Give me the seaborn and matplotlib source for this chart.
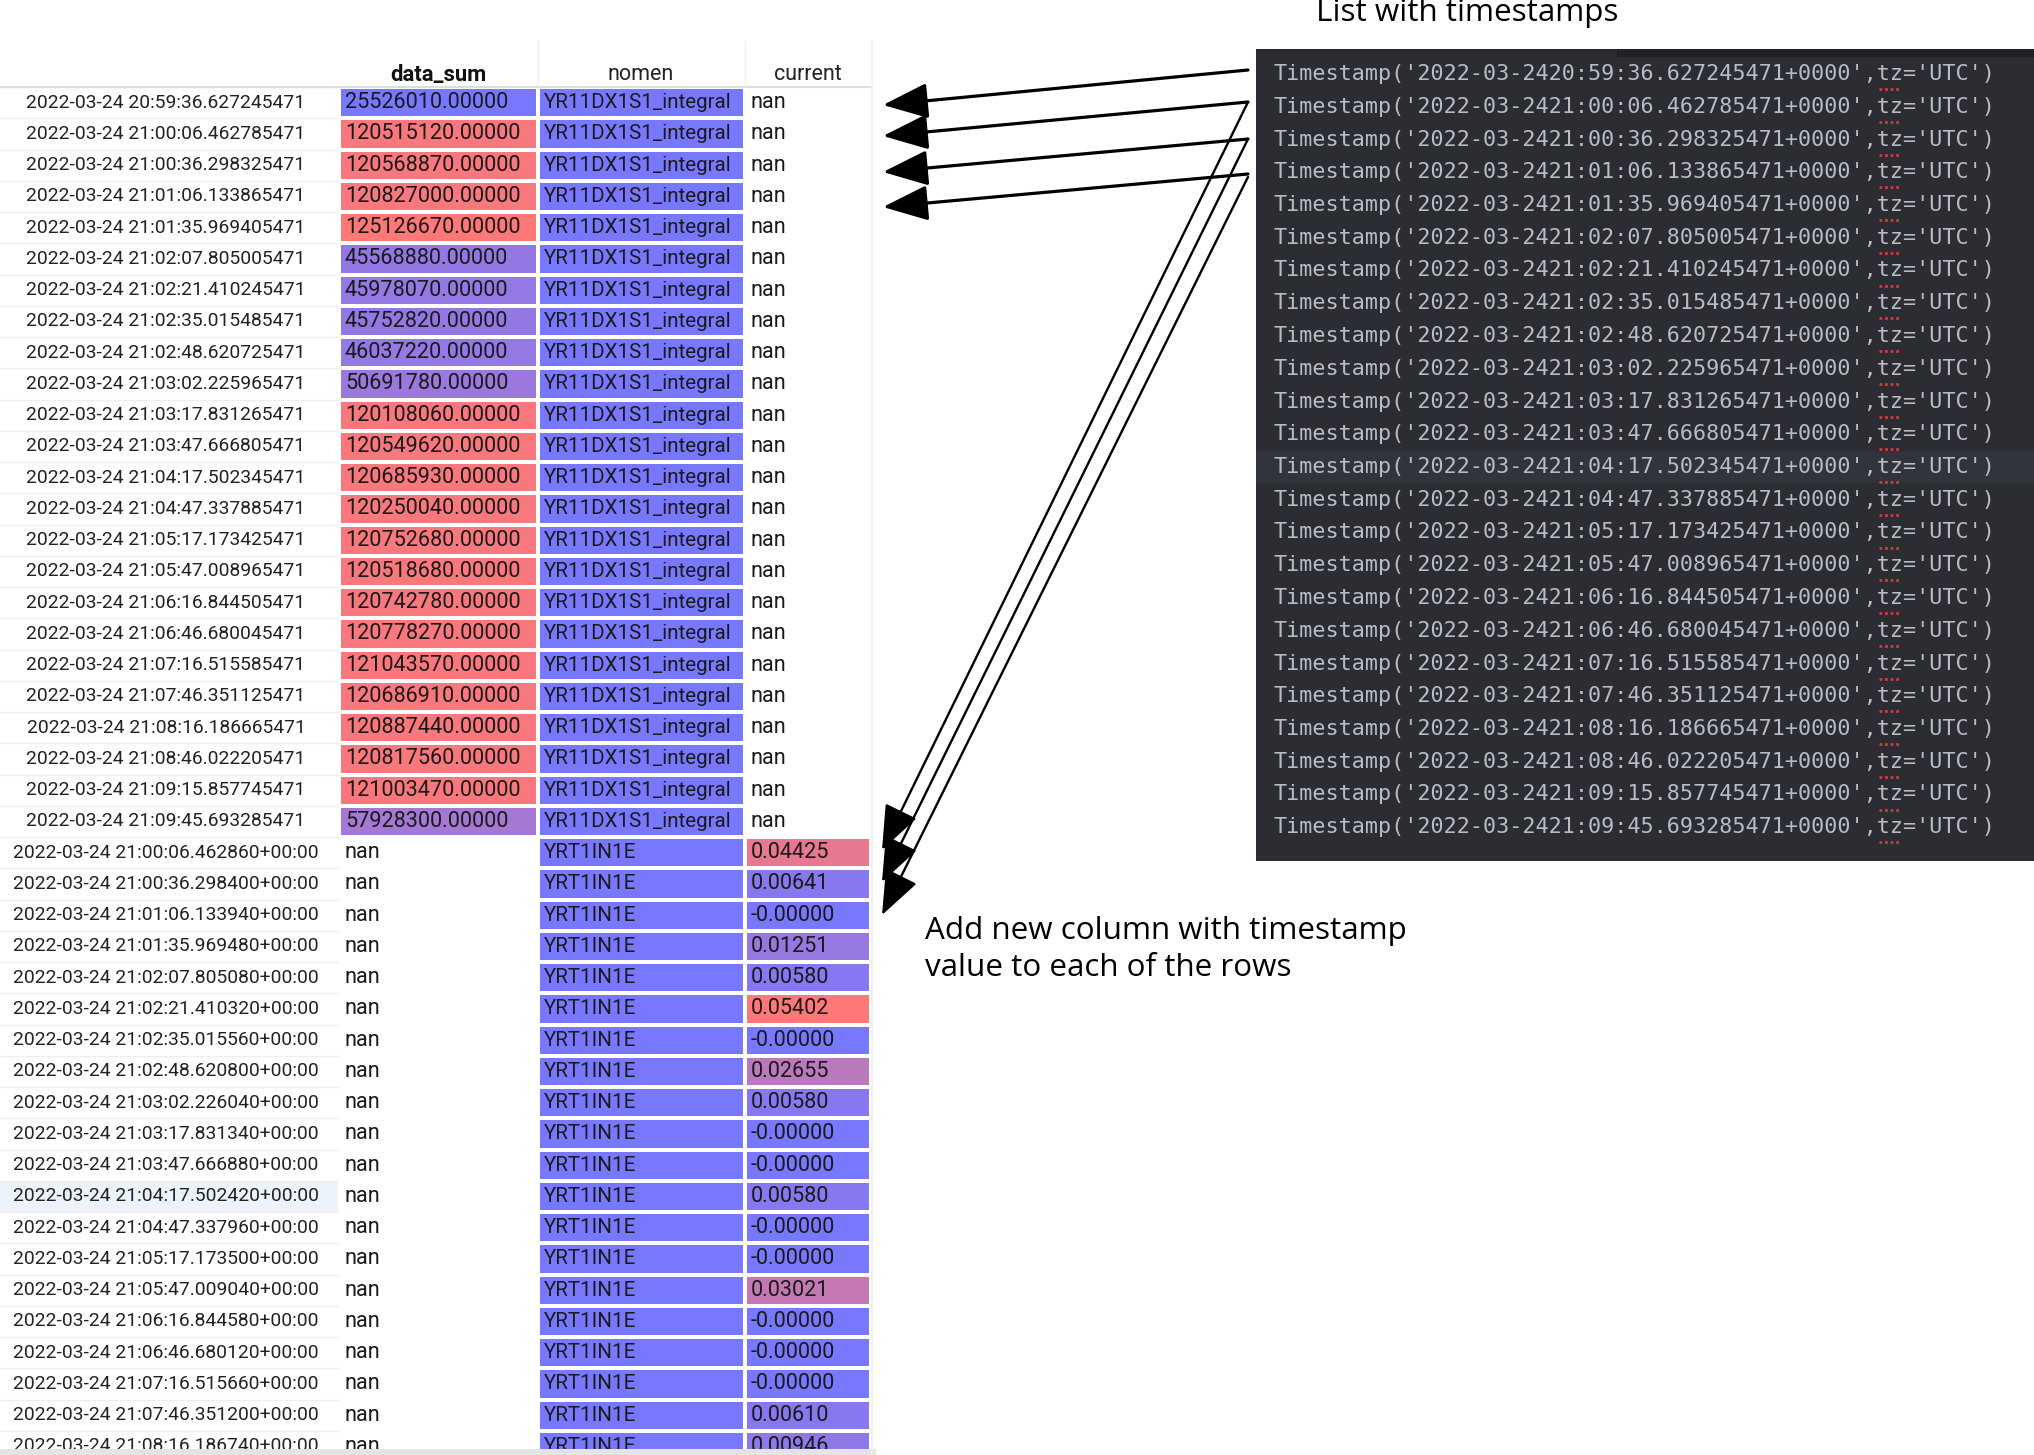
import numpy as np
import pandas as pd
import matplotlib
matplotlib.use("Agg")
import matplotlib.pyplot as plt
import seaborn as sns
from matplotlib.colors import LinearSegmentedColormap
from matplotlib.patches import Rectangle

# data
idx_top = ["2022-03-24 20:59:36.627245471", "2022-03-24 21:00:06.462785471",
           "2022-03-24 21:00:36.298325471", "2022-03-24 21:01:06.133865471",
           "2022-03-24 21:01:35.969405471", "2022-03-24 21:02:07.805005471",
           "2022-03-24 21:02:21.410245471", "2022-03-24 21:02:35.015485471",
           "2022-03-24 21:02:48.620725471", "2022-03-24 21:03:02.225965471",
           "2022-03-24 21:03:17.831265471", "2022-03-24 21:03:47.666805471",
           "2022-03-24 21:04:17.502345471", "2022-03-24 21:04:47.337885471",
           "2022-03-24 21:05:17.173425471", "2022-03-24 21:05:47.008965471",
           "2022-03-24 21:06:16.844505471", "2022-03-24 21:06:46.680045471",
           "2022-03-24 21:07:16.515585471", "2022-03-24 21:07:46.351125471",
           "2022-03-24 21:08:16.186665471", "2022-03-24 21:08:46.022205471",
           "2022-03-24 21:09:15.857745471", "2022-03-24 21:09:45.693285471"]
idx_bottom = ["2022-03-24 21:00:06.462860+00:00", "2022-03-24 21:00:36.298400+00:00",
              "2022-03-24 21:01:06.133940+00:00", "2022-03-24 21:01:35.969480+00:00",
              "2022-03-24 21:02:07.805080+00:00", "2022-03-24 21:02:21.410320+00:00",
              "2022-03-24 21:02:35.015560+00:00", "2022-03-24 21:02:48.620800+00:00",
              "2022-03-24 21:03:02.226040+00:00", "2022-03-24 21:03:17.831340+00:00",
              "2022-03-24 21:03:47.666880+00:00", "2022-03-24 21:04:17.502420+00:00",
              "2022-03-24 21:04:47.337960+00:00", "2022-03-24 21:05:17.173500+00:00",
              "2022-03-24 21:05:47.009040+00:00", "2022-03-24 21:06:16.844580+00:00",
              "2022-03-24 21:06:46.680120+00:00", "2022-03-24 21:07:16.515660+00:00",
              "2022-03-24 21:07:46.351200+00:00", "2022-03-24 21:08:16.186740+00:00"]
data_sum = [25526010, 120515120, 120568870, 120827000, 125126670, 45568880,
            45978070, 45752820, 46037220, 50691780, 120108060, 120549620,
            120685930, 120250040, 120752680, 120518680, 120742780, 120778270,
            121043570, 120686910, 120887440, 120817560, 121003470, 57928300]
current = [0.04425, 0.00641, -0.0, 0.01251, 0.00580, 0.05402, -0.0, 0.02655,
           0.00580, -0.0, -0.0, 0.00580, -0.0, -0.0, 0.03021, -0.0, -0.0,
           -0.0, 0.00610, 0.00946]
nomen_top = "YR11DX1S1_integral"
nomen_bottom = "YRT1IN1E"

n_top = len(idx_top)
n_bot = len(idx_bottom)
n = n_top + n_bot

df = pd.DataFrame({
    "data_sum": data_sum + [np.nan] * n_bot,
    "nomen": [nomen_top] * n_top + [nomen_bottom] * n_bot,
    "current": [np.nan] * n_top + current,
}, index=idx_top + idx_bottom)

# panel strings built from the index
stamps = ["Timestamp('" + s.replace(" ", "") + "+0000',tz='UTC')" for s in idx_top]

W, H = 2034, 1455
sns.set_style("white")
plt.rcParams['font.family'] = ['Roboto', 'DejaVu Sans']

fig = plt.figure(figsize=(W / 100, H / 100), dpi=100)

# table layout (pixels)
row_top = 87
row_h = 31.25
cols = {"data_sum": (339, 538), "nomen": (538, 745), "current": (745, 871)}
tab_right = 872

def fig_rect(x0, x1):
    bottom = 1 - (row_top + n * row_h) / H
    return [x0 / W, bottom, (x1 - x0) / W, n * row_h / H]

# background axes: row lines + index labels
tab = fig.add_axes(fig_rect(0, tab_right))
tab.set_xlim(0, tab_right)
tab.set_ylim(n, 0)
tab.axis("off")
tab.add_patch(Rectangle((0, n_top + 11), 338, 1, color="#edf3fa", lw=0))
tab.hlines(np.arange(n + 1), 0, tab_right, color="#eeeeee", lw=1)
for i, lab in enumerate(df.index):
    tab.text(166, i + 0.5, lab, ha="center", va="center", fontsize=13.9, color="#222222")

cmap = LinearSegmentedColormap.from_list("bluered", ["#7878ff", "#ff7878"])

def draw_col(name, values, vmin, vmax, labels, fs):
    x0, x1 = cols[name]
    ax = fig.add_axes(fig_rect(x0, x1))
    ax.set_facecolor("none")
    sns.heatmap(np.array(values, dtype=float).reshape(-1, 1), ax=ax, cmap=cmap,
                vmin=vmin, vmax=vmax, cbar=False, linewidths=1.5, linecolor="white",
                xticklabels=False, yticklabels=False)
    ax.set_ylim(n, 0)
    for i, t in enumerate(labels):
        ax.annotate(t, xy=(0, i + 0.5), xytext=(4.2, 0), textcoords="offset points",
                    ha="left", va="center", fontsize=fs, color="#1a1a1a")
    return ax

ds = df["data_sum"]
draw_col("data_sum", ds.values, ds.min(), ds.max(),
         ["nan" if np.isnan(v) else f"{v:.5f}" for v in ds.values], 15.6)
draw_col("nomen", np.zeros(n), 0, 1, list(df["nomen"]), 14.8)
cu = df["current"]
draw_col("current", cu.values, cu.min(), cu.max(),
         ["nan" if np.isnan(v) else f"{v:.5f}" for v in cu.values], 15.6)

# overlay in pixel coordinates
ov = fig.add_axes([0, 0, 1, 1])
ov.set_facecolor("none")
ov.set_xlim(0, W)
ov.set_ylim(H, 0)
ov.axis("off")

# header
ov.text(438, 75, "data_sum", ha="center", va="center", fontsize=15.8, fontweight="bold", color="#111111")
ov.text(641, 75, "nomen", ha="center", va="center", fontsize=15.5, color="#222222")
ov.text(808, 75, "current", ha="center", va="center", fontsize=15.5, color="#222222")
ov.hlines(87, 0, tab_right, color="#dddddd", lw=1.5)
ov.vlines([538, 745], 40, 87, color="#eeeeee", lw=1)
ov.vlines(tab_right, 40, H, color="#eeeeee", lw=1.2)
ov.add_patch(Rectangle((0, 1449), 876, 6, color="#e4e4e4", lw=0))

# dark code panel
px0, py0, py1 = 1256, 49, 861
ov.add_patch(Rectangle((px0, py0), W - px0, py1 - py0, color="#2b2d33", lw=0))
ov.add_patch(Rectangle((1617, py0), W - 1617, 8, color="#1f2126", lw=0))
line0, line_h = 74, 32.75
ov.add_patch(Rectangle((px0, line0 + 12 * line_h - line_h / 2), W - px0, line_h,
                       color="#31343b", lw=0))
char_w = 13.13
for k, s in enumerate(stamps):
    y = line0 + k * line_h
    ov.text(1273, y, s, ha="left", va="center", fontsize=15.7,
            family="DejaVu Sans Mono", color="#b8bdc5")
    xs = 1273 + 46 * char_w
    ov.plot([xs + 2, xs + 2 * char_w - 2], [y + 15, y + 15], color="#d23a3a",
            lw=2, ls=(0, (1, 1)))

ov.text(1467, 13, "List with timestamps", ha="center", va="center",
        fontsize=22.6, family="Open Sans", color="black")
ov.text(925, 931, "Add new column with timestamp", ha="left", va="center",
        fontsize=22.6, family="Open Sans", color="black")
ov.text(925, 968, "value to each of the rows", ha="left", va="center",
        fontsize=22.6, family="Open Sans", color="black")

# arrows
h_starts = [(1248, 70), (1248, 102), (1248, 139), (1248, 174)]
h_tips = [(883, 105), (883, 136), (883, 172), (883, 207)]
d_starts = [(1248, 102), (1248, 139), (1248, 177)]
d_tips = [(882, 850), (882, 882), (882, 915)]
for s, t in zip(h_starts, h_tips):
    ov.annotate("", xy=t, xytext=s,
                arrowprops=dict(arrowstyle="-|>,head_length=1.4,head_width=0.55",
                                mutation_scale=20, lw=2.3, color="black",
                                shrinkA=0, shrinkB=0))
for s, t in zip(d_starts, d_tips):
    ov.annotate("", xy=t, xytext=s,
                arrowprops=dict(arrowstyle="-|>,head_length=1.4,head_width=0.55",
                                mutation_scale=20, lw=1.7, color="black",
                                shrinkA=0, shrinkB=0))

fig.savefig("out.png", dpi=100)
